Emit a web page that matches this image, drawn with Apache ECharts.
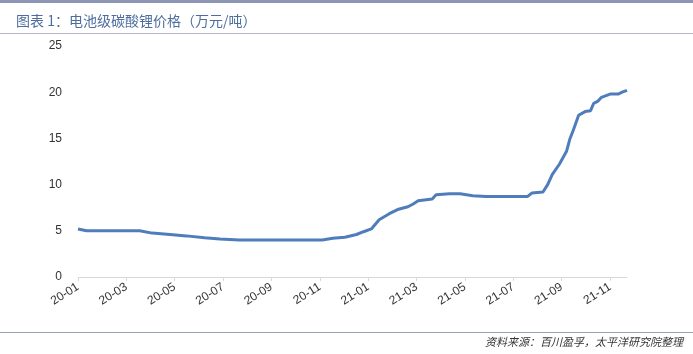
<!DOCTYPE html>
<html>
<head>
<meta charset="utf-8">
<script src="https://cdn.jsdelivr.net/npm/echarts@6/dist/echarts.min.js"></script>
<style>
  html, body { margin: 0; padding: 0; background: #fff; }
  #chart { width: 693px; height: 354px; }
</style>
</head>
<body>
<div id="chart"></div>
<script>
// price of battery-grade lithium carbonate
const dates = [
  '2020-01-01', '2020-01-12', '2020-03-18', '2020-04-03', '2020-04-25', '2020-05-16',
  '2020-06-08', '2020-06-27', '2020-07-22', '2020-10-06', '2020-11-04', '2020-11-17',
  '2020-12-02', '2020-12-17', '2020-12-26', '2021-01-05', '2021-01-15', '2021-01-28',
  '2021-02-07', '2021-02-19', '2021-02-25', '2021-03-03', '2021-03-21', '2021-03-26',
  '2021-04-12', '2021-04-25', '2021-05-11', '2021-05-28', '2021-07-01', '2021-07-19',
  '2021-07-25', '2021-08-08', '2021-08-14', '2021-08-20', '2021-08-29', '2021-09-07',
  '2021-09-11', '2021-09-15', '2021-09-22', '2021-09-30', '2021-10-07', '2021-10-11',
  '2021-10-16', '2021-10-21', '2021-11-01', '2021-11-11', '2021-11-16', '2021-11-22'
];
const prices = [
  5.2, 5.0, 5.0, 4.75, 4.6, 4.45,
  4.25, 4.1, 4.0, 4.0, 4.0, 4.2,
  4.3, 4.6, 4.9, 5.2, 6.2, 6.85,
  7.3, 7.6, 7.9, 8.25, 8.45, 8.9,
  9.0, 9.0, 8.8, 8.7, 8.7, 8.7,
  9.1, 9.2, 10.0, 11.1, 12.2, 13.6,
  14.9, 15.8, 17.5, 17.9, 18.0, 18.8,
  19.0, 19.45, 19.8, 19.8, 20.0, 20.2
];
const tickLabels = ['20-01', '20-03', '20-05', '20-07', '20-09', '20-11',
                    '21-01', '21-03', '21-05', '21-07', '21-09', '21-11'];
const yTicks = [0, 5, 10, 15, 20, 25];

// months since 2020-01-01
function monthOffset(s) {
  const [y, m, d] = s.split('-').map(Number);
  const days = new Date(y, m, 0).getDate();
  return (y - 2020) * 12 + (m - 1) + (d - 1) / days;
}
const tickValues = tickLabels.map((t, i) => i * 2);
const points = dates.map((d, i) => [monthOffset(d), prices[i]]);

const chart = echarts.init(document.getElementById('chart'), null, { renderer: 'canvas' });
chart.setOption({
  animation: false,
  title: {
    text: '图表 1：电池级碳酸锂价格（万元/吨）',
    left: 11, top: 9,
    textStyle: { fontFamily: 'Noto Sans CJK SC', fontSize: 14, fontWeight: 'normal', color: '#4d6d9e' }
  },
  graphic: [
    { type: 'rect', shape: { x: 0, y: 0, width: 693, height: 3 }, style: { fill: '#8c96b4' } },
    { type: 'rect', shape: { x: 0, y: 33, width: 693, height: 1 }, style: { fill: '#b4b9c8' } },
    { type: 'rect', shape: { x: 0, y: 332, width: 693, height: 1 }, style: { fill: '#9aa0b4' } },
    {
      type: 'text', right: 10, top: 336,
      style: {
        text: '资料来源：百川盈孚，太平洋研究院整理',
        font: 'italic 11px "Noto Sans CJK SC"', fill: '#333'
      }
    }
  ],
  grid: { left: 78, right: 66, top: 46, bottom: 77 },
  xAxis: {
    type: 'value',
    min: 0, max: monthOffset(dates[dates.length - 1]),
    splitLine: { show: false },
    axisLine: { lineStyle: { color: '#d9d9d9', width: 1 } },
    axisTick: { show: true, length: 4, customValues: tickValues, lineStyle: { color: '#d9d9d9' } },
    axisLabel: {
      customValues: tickValues,
      rotate: 32, margin: 9,
      fontFamily: 'Liberation Sans', fontSize: 12, color: '#333',
      formatter: v => tickLabels[Math.round(v / 2)] || ''
    }
  },
  yAxis: {
    type: 'value',
    min: yTicks[0], max: yTicks[yTicks.length - 1], interval: 5,
    splitLine: { show: false },
    axisLine: { show: false },
    axisTick: { show: false },
    axisLabel: { margin: 16, fontFamily: 'Liberation Sans', fontSize: 12, color: '#333' }
  },
  series: [{
    type: 'line',
    data: points,
    symbol: 'none',
    lineStyle: { color: '#4f7dbc', width: 3 }
  }]
});
</script>
</body>
</html>
